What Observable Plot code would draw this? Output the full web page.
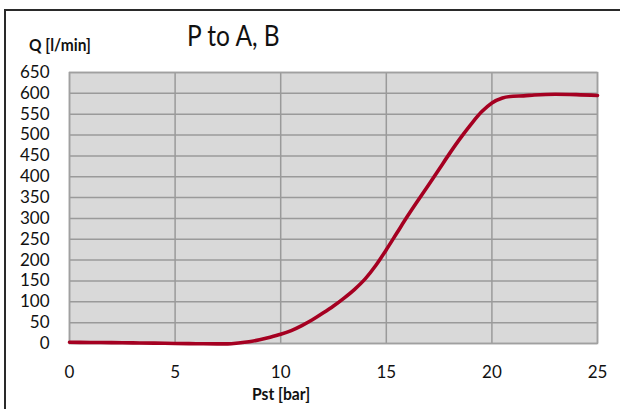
<!DOCTYPE html>
<html>
<head>
<meta charset="utf-8">
<script src="https://cdn.jsdelivr.net/npm/d3@7"></script>
<script src="https://cdn.jsdelivr.net/npm/@observablehq/plot@0.6"></script>
<style>
  html, body { margin: 0; padding: 0; background: #fff; }
  #wrap { position: relative; width: 620px; height: 409px; overflow: hidden; font-family: Lato, "Open Sans", sans-serif; }
  #frame { position: absolute; left: 4px; top: 9px; width: 700px; height: 500px; border-left: 2px solid #2a2a2a; border-top: 2px solid #2a2a2a; }
  #title { position: absolute; left: 187px; top: 18px; font-size: 25px; font-family: Lato, sans-serif; font-weight: 400; color: #111; white-space: nowrap; transform-origin: left top; transform: scale(0.98, 1.12); }
  #ylab { position: absolute; left: 29px; top: 33px; font-size: 16px; font-weight: 700; color: #111; white-space: nowrap; transform-origin: left top; transform: scale(0.97, 1.12); }
  #xlab { position: absolute; left: 252px; top: 382px; font-size: 16px; font-weight: 700; color: #111; white-space: nowrap; transform-origin: left top; transform: scale(0.98, 1.12); }
  #chart { position: absolute; left: 0; top: 0; }
</style>
</head>
<body>
<div id="wrap">
  <div id="frame"></div>
  <div id="chart"></div>
  <div id="title">P to A, B</div>
  <div id="ylab">Q [l/min]</div>
  <div id="xlab">Pst [bar]</div>
</div>
<script>
const pst = [0, 1, 2, 3, 4, 5, 6, 7, 7.5, 8, 8.5, 9, 9.5, 10, 10.5, 11, 11.5, 12, 12.5, 13, 13.5, 14, 14.5, 15, 15.5, 16, 16.5, 17, 17.5, 18, 18.5, 19, 19.5, 20, 20.5, 21, 21.5, 22, 23, 24, 25];
const flow = [3, 2.5, 2, 1.5, 1, 0, -0.5, -1, -1, 1, 4, 9, 15, 22, 31, 43, 57, 73, 90, 109, 130, 155, 187, 225, 265, 305, 343, 380, 418, 456, 492, 525, 555, 577, 589, 593, 594, 596, 598, 597, 595];
const xTicks = [0, 5, 10, 15, 20, 25];
const yTicks = [0, 50, 100, 150, 200, 250, 300, 350, 400, 450, 500, 550, 600, 650];

const data = pst.map((p, i) => ({pst: p, q: flow[i]}));

const chart = Plot.plot({
  width: 620,
  height: 409,
  marginLeft: 69,
  marginRight: 23,
  marginTop: 72,
  marginBottom: 66,
  style: {fontFamily: "Lato, 'Open Sans', sans-serif", fontSize: "17px", color: "#111", background: "transparent", overflow: "visible"},
  x: {domain: [0, 25]},
  y: {domain: [0, 650]},
  marks: [
    Plot.frame({fill: "#d9d9d9", stroke: "none"}),
    Plot.ruleX(xTicks, {stroke: "#9a9a9a", strokeWidth: 1.5}),
    Plot.ruleY(yTicks, {stroke: "#9a9a9a", strokeWidth: 1.5}),
    Plot.frame({stroke: "#a0a0a0", strokeWidth: 1.5}),
    Plot.axisX({ticks: xTicks, tickSize: 0, tickPadding: 22, fontSize: 17, label: null}),
    Plot.axisY({ticks: yTicks, tickSize: 0, tickPadding: 20, fontSize: 17, label: null}),
    Plot.line(data, {x: "pst", y: "q", stroke: "#a50021", strokeWidth: 3.6, curve: "monotone-x"})
  ]
});
document.getElementById("chart").appendChild(chart);
</script>
</body>
</html>
